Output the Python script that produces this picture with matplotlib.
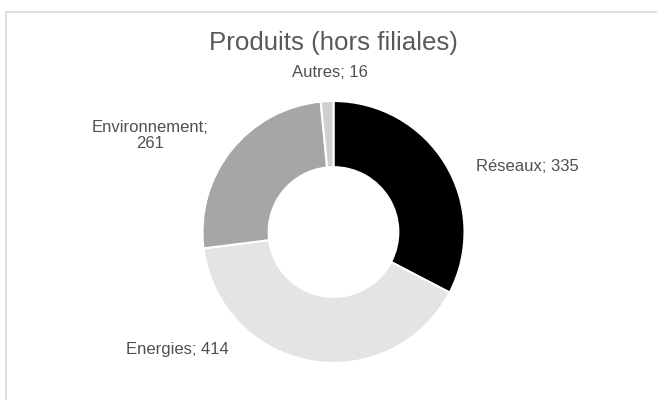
import matplotlib
matplotlib.use("Agg")
import matplotlib.pyplot as plt
from matplotlib.lines import Line2D

plt.rcParams['font.family'] = ['Liberation Sans', 'DejaVu Sans']

title = "Produits (hors filiales)"
categories = ["Réseaux", "Energies", "Environnement", "Autres"]
values = [335, 414, 261, 16]
colors = ["#000000", "#e4e4e4", "#a6a6a6", "#d0d0d0"]

# label text placement (in units of the outer radius), alignment
label_pos = [(1.085, 0.50, 'left'), (-1.195, -0.90, 'center'),
             (-1.40, 0.735, 'center'), (-0.03, 1.215, 'center')]
label_fmt = ["{}; {}", "{}; {}", "{};\n{}", "{}; {}"]

W, H = 657, 400
fig = plt.figure(figsize=(W / 100, H / 100), dpi=100)
ax = fig.add_axes([0, 0, 1, 1])

cx, cy, R = 333.5, 232.0, 131.0
ax.pie(values, colors=colors, startangle=90, counterclock=False,
       radius=1.0, wedgeprops=dict(width=0.505, edgecolor='white', linewidth=1.5))
ax.set_aspect('auto')
ax.set_xlim(-cx / R, (W - cx) / R)
ax.set_ylim((cy - H) / R, cy / R)
ax.axis('off')

for cat, v, (x, y, ha), fmt in zip(categories, values, label_pos, label_fmt):
    ax.text(x, y, fmt.format(cat, v), ha=ha, va='center', fontsize=12.0,
            color='#505050', linespacing=1.1)

fig.text(333.5 / W, 1 - 43 / H, title, ha='center', va='center',
         fontsize=18.6, color='#595959')

# chart area border (only left and top edges visible)
bc = '#d9d9d9'
fig.add_artist(Line2D([5.5 / W, 5.5 / W], [0, 1 - 11.5 / H], transform=fig.transFigure,
                      color=bc, linewidth=1.2))
fig.add_artist(Line2D([5.5 / W, 1], [1 - 11.5 / H, 1 - 11.5 / H], transform=fig.transFigure,
                      color=bc, linewidth=1.2))

fig.savefig("out.png", dpi=100, facecolor='white')
